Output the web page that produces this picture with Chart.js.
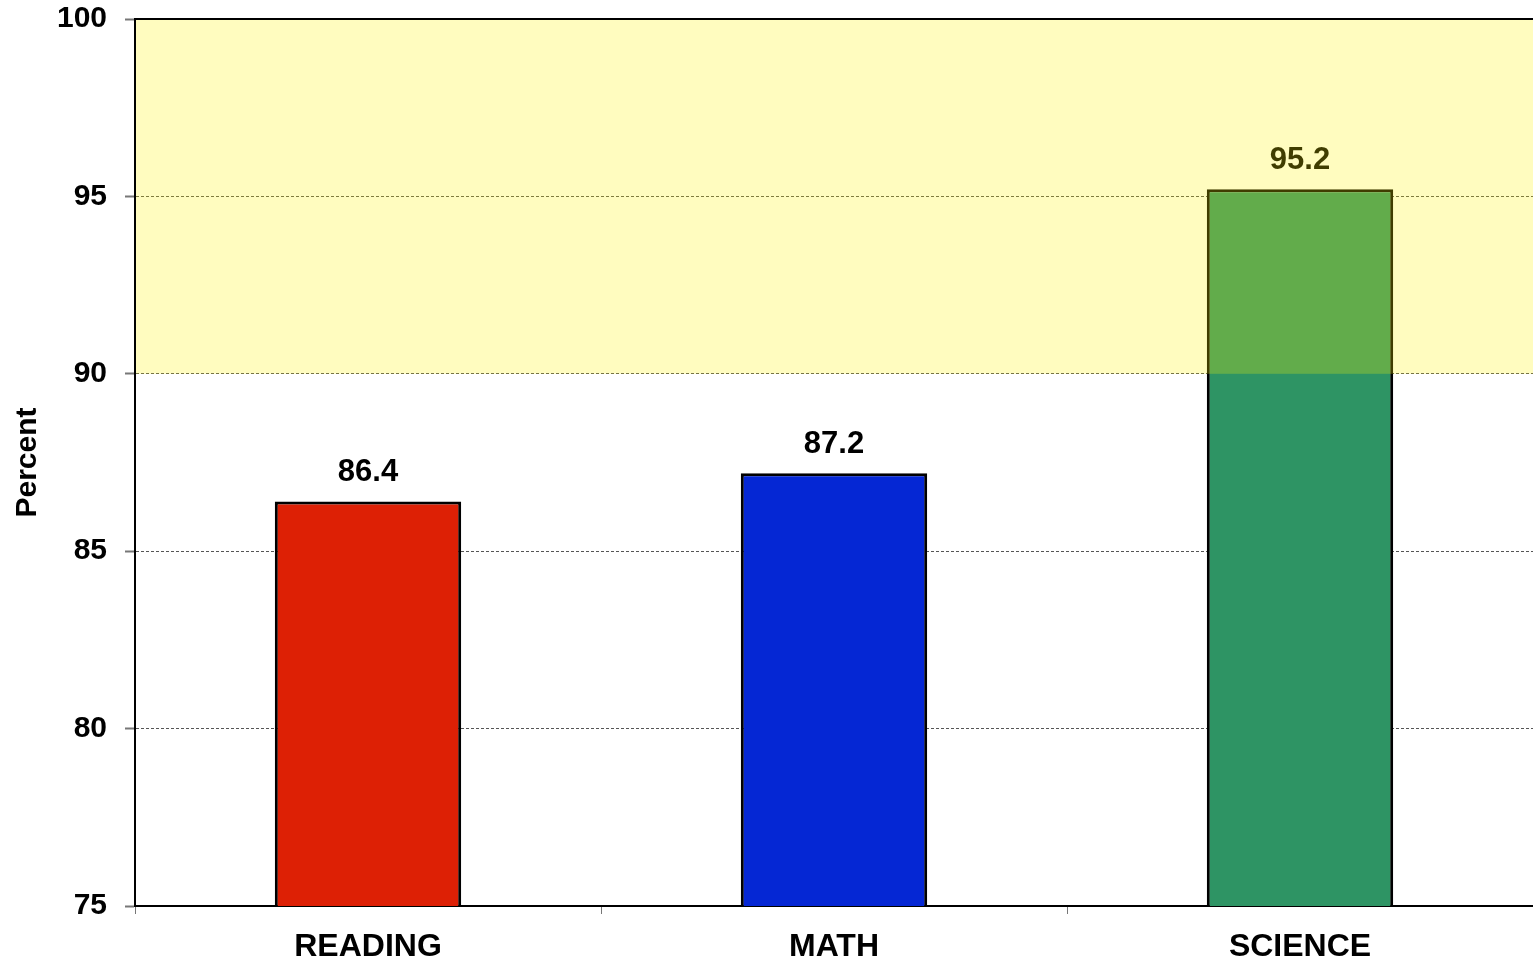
<!DOCTYPE html>
<html>
<head>
<meta charset="utf-8">
<script src="https://cdn.jsdelivr.net/npm/chart.js@4/dist/chart.umd.min.js"></script>
<style>
html,body{margin:0;padding:0;background:#fff;}
#wrap{width:1533px;height:964px;position:relative;}
</style>
</head>
<body>
<div id="wrap"><canvas id="c" width="1533" height="964"></canvas></div>
<script>
const categories = ['READING', 'MATH', 'SCIENCE'];
const percentValues = [86.4, 87.2, 95.2];
const barColors = ['#DD2005', '#0527D4', '#2E9464'];
const yTicks = [75, 80, 85, 90, 95, 100];
const bandRange = [90, 100];

const FONT = '"Liberation Sans", Arial, Helvetica, sans-serif';

const valueLabels = {
  id: 'valueLabels',
  afterDatasetsDraw(chart) {
    const ctx = chart.ctx;
    const meta = chart.getDatasetMeta(0);
    ctx.save();
    ctx.font = 'bold 31px ' + FONT;
    ctx.fillStyle = '#000';
    ctx.textAlign = 'center';
    ctx.textBaseline = 'middle';
    meta.data.forEach((bar, i) => {
      ctx.fillText(String(percentValues[i].toFixed(1)), bar.x, bar.y - 29);
    });
    ctx.restore();
  }
};

const bandOverlay = {
  id: 'bandOverlay',
  afterDraw(chart) {
    const ctx = chart.ctx;
    const ca = chart.chartArea;
    const y = chart.scales.y;
    const yTop = y.getPixelForValue(bandRange[1]);
    const yBot = y.getPixelForValue(bandRange[0]);
    ctx.save();
    ctx.fillStyle = 'rgba(255,244,0,0.25)';
    ctx.fillRect(ca.left, yTop, ca.right - ca.left, yBot - yTop);
    ctx.strokeStyle = '#000';
    ctx.lineWidth = 2;
    ctx.beginPath();
    ctx.moveTo(ca.left - 1, ca.top);
    ctx.lineTo(ca.right, ca.top);
    ctx.moveTo(ca.left, ca.top);
    ctx.lineTo(ca.left, ca.bottom);
    ctx.stroke();
    ctx.restore();
  }
};

new Chart(document.getElementById('c'), {
  type: 'bar',
  data: {
    labels: categories,
    datasets: [{
      data: percentValues,
      backgroundColor: barColors,
      borderColor: '#000',
      borderWidth: 3,
      borderSkipped: false,
      barPercentage: 0.4,
      categoryPercentage: 1.0
    }]
  },
  options: {
    responsive: false,
    animation: false,
    devicePixelRatio: 1,
    layout: { padding: { top: 19, right: -5, left: 0, bottom: 0 } },
    plugins: {
      legend: { display: false },
      tooltip: { enabled: false }
    },
    scales: {
      x: {
        offset: true,
        grid: {
          offset: true,
          drawOnChartArea: false,
          drawTicks: true,
          tickLength: 8,
          color: '#777',
          lineWidth: 1
        },
        border: { display: true, color: '#000', width: 2 },
        ticks: {
          color: '#000',
          padding: 14,
          maxRotation: 0,
          font: { family: FONT, size: 32, weight: 'bold' }
        },
        afterFit(scale) { scale.height = 58; scale.paddingLeft = 0; scale.paddingRight = 0; }
      },
      y: {
        min: 75,
        max: 100,
        afterBuildTicks(scale) { scale.ticks = yTicks.map(v => ({ value: v })); },
        grid: {
          color: '#555',
          lineWidth: 1,
          drawTicks: true,
          tickLength: 10,
          tickColor: '#777',
          tickBorderDash: [],
          tickWidth: 2
        },
        border: { display: true, color: '#000', width: 2, dash: [3, 2] },
        ticks: {
          color: '#000',
          padding: 18,
          font: { family: FONT, size: 30, weight: 'bold' }
        },
        title: {
          display: true,
          text: 'Percent',
          color: '#000',
          padding: { top: 10, bottom: 0 },
          font: { family: FONT, size: 30, weight: 'bold' }
        },
        afterFit(scale) { scale.width = 135; scale.paddingTop = 0; scale.paddingBottom = 0; }
      }
    }
  },
  plugins: [valueLabels, bandOverlay]
});
</script>
</body>
</html>
